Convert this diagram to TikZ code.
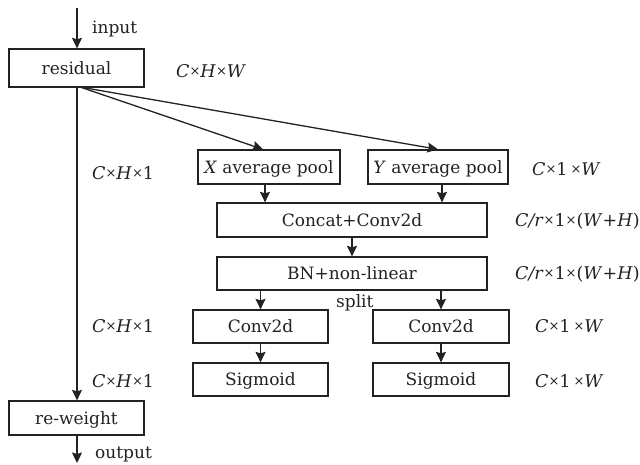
\documentclass[tikz,border=0pt]{standalone}
\usepackage{fontspec}
\setmainfont{DejaVu Serif}
\usetikzlibrary{arrows.meta,calc}
\definecolor{ink}{HTML}{222222}
\newcommand\tms{\raisebox{1.3pt}{\fontsize{13}{13}\selectfont\symbol{"D7}}}
\newcommand\iv[1]{\textit{#1}}
\begin{document}
\begin{tikzpicture}[x=1pt,y=-1pt,
  every node/.style={text=ink, font=\fontsize{17}{20}\selectfont},
  box/.style={draw=ink, line width=1.3pt, inner sep=0pt, text height=12.5pt, text depth=0pt, minimum height=34pt},
  lab/.style={anchor=base west, inner sep=0pt},
  mlab/.style={lab, font=\fontsize{17.5}{20}\selectfont},
  arr/.style={draw=ink, line width=1.3pt, -{Stealth[length=10.5pt,width=10pt,inset=1.5pt]}}]
\useasboundingbox (0,0) rectangle (640,464);
% boxes
\node[box, minimum width=135pt, minimum height=38pt] (residual) at (76.5,68) {residual};
\node[box, minimum width=135pt] (reweight) at (76.5,418) {re-weight};
\node[box, minimum width=142pt] (xpool) at (269,167) {\iv{X} average pool};
\node[box, minimum width=140pt] (ypool) at (438,167) {\iv{Y} average pool};
\node[box, minimum width=270pt] (concat) at (352,220) {Concat+Conv2d};
\node[box, minimum width=270pt, minimum height=33pt] (bn) at (352,273.5) {BN+non-linear};
\node[box, minimum width=135pt, minimum height=33pt] (conva) at (260.5,326.5) {Conv2d};
\node[box, minimum width=136pt, minimum height=33pt] (convb) at (441,326.5) {Conv2d};
\node[box, minimum width=135pt, minimum height=33pt] (siga) at (260.5,379.5) {Sigmoid};
\node[box, minimum width=136pt, minimum height=33pt] (sigb) at (441,379.5) {Sigmoid};
% labels
\node[lab] (tin) at (92,33) {input};
\node[lab] (tout) at (95,458) {output};
\node[mlab] (l1) at (176,77) {\iv{C}\tms\iv{H}\tms\iv{W}};
\node[mlab] (l2) at (92,179) {\iv{C}\tms\iv{H}\tms 1};
\node[mlab] (l3) at (532,175) {\iv{C}\tms 1\,\tms\iv{W}};
\node[mlab] (l4) at (515,226) {\iv{C/r}\tms 1\tms(\iv{W}+\iv{H})};
\node[mlab] (l5) at (515,279) {\iv{C/r}\tms 1\tms(\iv{W}+\iv{H})};
\node[lab] (tsplit) at (336,307) {split};
\node[mlab] (l6) at (92,332) {\iv{C}\tms\iv{H}\tms 1};
\node[mlab] (l7) at (92,387) {\iv{C}\tms\iv{H}\tms 1};
\node[mlab] (l8) at (535,332) {\iv{C}\tms 1\,\tms\iv{W}};
\node[mlab] (l9) at (535,387) {\iv{C}\tms 1\,\tms\iv{W}};
% connectors
\coordinate (inp) at (77,8);
\coordinate (outp) at (77,463);
\coordinate (fork) at (80,87);
\draw[arr] (inp) -- (inp |- residual.north);
\draw[arr] (inp |- residual.south) -- (inp |- reweight.north);
\draw[arr] (inp |- reweight.south) -- (outp);
\draw[arr] (fork) -- ([xshift=-6pt]xpool.north);
\draw[arr] (fork) -- (ypool.north);
\draw[arr] ([xshift=-4pt]xpool.south) -- ([xshift=-4pt]xpool.south |- concat.north);
\draw[arr] ([xshift=4pt]ypool.south) -- ([xshift=4pt]ypool.south |- concat.north);
\draw[arr] (concat.south) -- (bn.north);
\draw[arr] (conva.north |- bn.south) -- (conva.north);
\draw[arr] (convb.north |- bn.south) -- (convb.north);
\draw[arr] (conva.south) -- (siga.north);
\draw[arr] (convb.south) -- (sigb.north);
\end{tikzpicture}
\end{document}
